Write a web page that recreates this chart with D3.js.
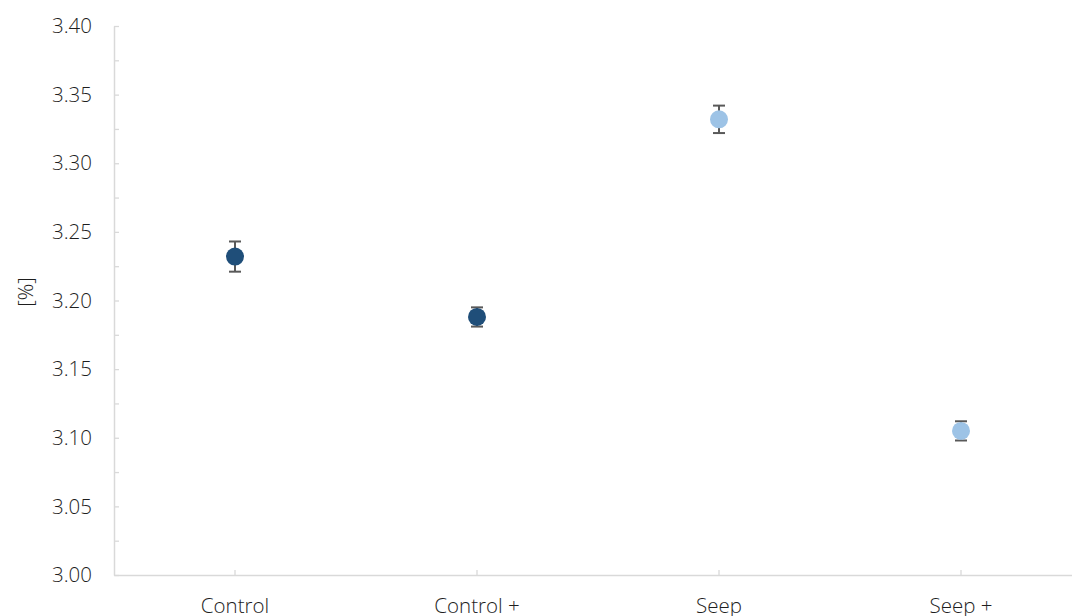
<!DOCTYPE html>
<html>
<head>
<meta charset="utf-8">
<script src="https://cdn.jsdelivr.net/npm/d3@7"></script>
<style>
  html, body { margin: 0; padding: 0; background: #fff; }
  svg { display: block; }
  text { font-family: "Open Sans", "Noto Sans", sans-serif; font-weight: 300; fill: #1e1e1e; }
</style>
</head>
<body>
<svg id="chart" width="1072" height="616"></svg>
<script>
// Group means with their error margins
const categories = ["Control", "Control +", "Seep", "Seep +"];
const means = [3.232, 3.188, 3.332, 3.105];
const errors = [0.011, 0.007, 0.010, 0.007];
const groupColors = ["#1f4e79", "#1f4e79", "#9dc3e6", "#9dc3e6"];
const yTicks = [3.00, 3.05, 3.10, 3.15, 3.20, 3.25, 3.30, 3.35, 3.40];
const yMinorTicks = d3.range(0, 17).map(i => 3.0 + i * 0.025);

(function () {
  const svg = d3.select("#chart");
  const plotLeft = 114, plotTop = 26, plotBottom = 575, plotRight = 1082;

  const x = d3.scaleBand().domain(categories).range([plotLeft, plotRight]);
  const y = d3.scaleLinear().domain([3.0, 3.4]).range([plotBottom, plotTop]);

  const axisColor = "#d9d9d9";
  const fontSize = 20.5;

  // Y axis: line, inward ticks, labels
  const yAxis = svg.append("g").attr("transform", `translate(${plotLeft},0)`)
    .call(d3.axisLeft(y).tickValues(yMinorTicks).tickSize(-5).tickSizeOuter(0).tickFormat(""));
  yAxis.select(".domain").attr("stroke", axisColor).attr("stroke-width", 1.5);
  yAxis.selectAll(".tick line").attr("stroke", axisColor).attr("stroke-width", 1.3);

  svg.append("g").selectAll("text").data(yTicks).join("text")
    .attr("x", 92).attr("y", d => y(d)).attr("dy", "0.35em")
    .attr("text-anchor", "end").attr("font-size", fontSize)
    .text(d => d.toFixed(2));

  // X axis: line, category ticks, labels
  const xAxis = svg.append("g").attr("transform", `translate(0,${plotBottom})`)
    .call(d3.axisBottom(x).tickSize(-5).tickSizeOuter(0).tickFormat(""));
  xAxis.select(".domain").attr("stroke", axisColor).attr("stroke-width", 1.5);
  xAxis.selectAll(".tick line").attr("stroke", axisColor).attr("stroke-width", 1.3);

  svg.append("g").selectAll("text").data(categories).join("text")
    .attr("x", d => x(d) + x.bandwidth() / 2).attr("y", 613)
    .attr("text-anchor", "middle").attr("font-size", fontSize)
    .text(d => d);

  // Y axis title
  svg.append("text")
    .attr("transform", `translate(33,292) rotate(-90)`)
    .attr("text-anchor", "middle").attr("font-size", fontSize)
    .text("[%]");

  // Error bars
  const cx = d => x(d) + x.bandwidth() / 2;
  const eb = svg.append("g").attr("stroke", "#595959").attr("stroke-width", 2);
  categories.forEach((c, i) => {
    const x0 = cx(c), yHi = y(means[i] + errors[i]), yLo = y(means[i] - errors[i]);
    eb.append("line").attr("x1", x0).attr("x2", x0).attr("y1", yHi).attr("y2", yLo);
    eb.append("line").attr("x1", x0 - 6).attr("x2", x0 + 6).attr("y1", yHi).attr("y2", yHi);
    eb.append("line").attr("x1", x0 - 6).attr("x2", x0 + 6).attr("y1", yLo).attr("y2", yLo);
  });

  // Mean markers
  svg.append("g").selectAll("circle").data(categories).join("circle")
    .attr("cx", d => cx(d))
    .attr("cy", (d, i) => y(means[i]))
    .attr("r", 9)
    .attr("fill", (d, i) => groupColors[i]);
})();
</script>
</body>
</html>
